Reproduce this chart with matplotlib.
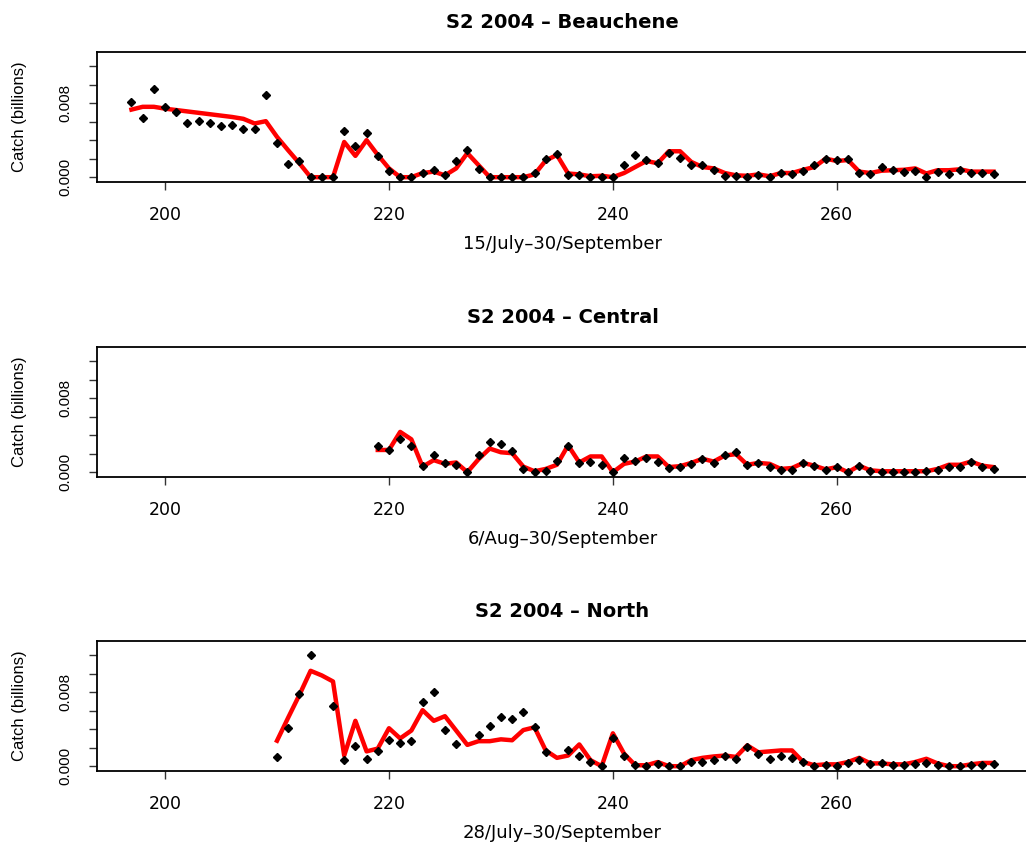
"""Observed vs fitted daily catch, S2 2004, three areas."""

import matplotlib

matplotlib.use("Agg")
import matplotlib.pyplot as plt
import numpy as np

nan = np.nan

# values read in units of 0.001 billion
beau_days = np.arange(197, 275)
beau_obs = [8.1, 6.4, 9.5, 7.6, 7.0, 5.9, 6.05, 5.9, 5.55, 5.65,
            5.2, 5.2, 8.9, 3.7, 1.4, 1.8, 0, 0, 0, 5.0,
            3.35, 4.75, 2.3, 0.7, 0, 0, 0.4, 0.8, 0.2, 1.7,
            2.9, 0.9, 0, 0, 0, 0, 0.4, 2.0, 2.55, 0.2,
            0.25, 0, 0, 0, 1.3, 2.4, 1.9, 1.55, 2.6, 2.1,
            1.35, 1.3, 0.8, 0.1, 0.1, 0.05, 0.2, 0, 0.45, 0.3,
            0.7, 1.3, 2.0, 1.9, 1.95, 0.45, 0.3, 1.05, 0.75, 0.6,
            0.7, 0, 0.6, 0.3, 0.8, 0.4, 0.4, 0.3]
beau_fit = [7.3, 7.6, 7.6, 7.4, 7.25, 7.1, 6.95, 6.8, 6.65, 6.5,
            6.3, 5.8, 6.05, 4.35, 2.9, 1.5, 0, 0, 0, 3.8,
            2.3, 4.0, 2.4, 0.95, 0, 0, 0.45, 0.6, 0.2, 0.95,
            2.6, 1.3, 0, 0, 0, 0, 0.3, 1.8, 2.4, 0.4,
            0.3, 0.1, 0.15, 0, 0.45, 1.1, 1.75, 1.5, 2.8, 2.8,
            1.65, 1.1, 0.95, 0.45, 0.2, 0.15, 0.3, 0.1, 0.45, 0.45,
            0.8, 1.1, 2.0, 1.75, 1.85, 0.6, 0.45, 0.7, 0.75, 0.8,
            0.95, 0.4, 0.75, 0.75, 0.85, 0.6, 0.6, 0.6]

cent_days = np.arange(219, 275)
cent_obs = [2.8, 2.4, 3.55, 2.85, 0.7, 1.85, 1.0, 0.8, 0, 1.85,
            3.3, 3.05, 2.3, 0.3, 0, 0.1, 1.25, 2.8,
            1.0, 1.15, 0.8, 0, 1.5, 1.25, 1.5, 1.05, 0.45, 0.55,
            0.9, 1.4, 1.0, 1.85, 2.15, 0.8, 1.0, 0.55, 0.2, 0.25,
            1.0, 0.7, 0.2, 0.55, 0, 0.65, 0.1, 0, 0, 0,
            0, 0.1, 0.2, 0.55, 0.55, 1.15, 0.55, 0.35]
cent_fit = [2.4, 2.4, 4.35, 3.55, 0.6, 1.3, 0.9, 1.05, 0, 1.4,
            2.55, 2.15, 2.05, 0.6, 0.1, 0.35, 0.8, 2.9,
            1.05, 1.7, 1.7, 0, 0.9, 1.15, 1.7, 1.7, 0.55, 0.65,
            1.0, 1.45, 1.15, 1.8, 1.95, 0.8, 1.0, 0.9, 0.35, 0.45,
            1.0, 0.7, 0.3, 0.55, 0, 0.7, 0.2, 0.1, 0.1, 0.1,
            0.1, 0.1, 0.35, 0.8, 0.8, 1.15, 0.7, 0.55]

north_days = np.arange(210, 275)
north_obs = [1.0, 4.1, 7.8, 12.05, nan, 6.55, 0.7, 2.2, 0.75, 1.6,
             2.85, 2.5, 2.75, 6.9, 8.05, 3.9, 2.35, nan, 3.35, 4.3,
             5.3, 5.05, 5.9, 4.25, 1.5, nan, 1.7,
             1.15, 0.45, 0, 3.05, 1.15, 0.1, 0, 0.2, 0, 0,
             0.5, 0.45, 0.7, 1.1, 0.8, 2.05, 1.3, 0.8, 1.05, 0.9,
             0.45, 0, 0.1, 0, 0.3, 0.7, 0.2, 0.35, 0.1, 0.1,
             0.2, 0.3, 0.1, 0, 0, 0.1, 0.1, 0.2]
north_fit = [2.75, 5.25, 7.7, 10.3, 9.8, 9.15, 1.15, 4.9, 1.6, 1.9,
             4.1, 3.0, 3.85, 6.05, 4.9, 5.4, 3.85, 2.3, 2.7, 2.7,
             2.9, 2.8, 3.9, 4.2, 1.7, 0.9, 1.15,
             2.35, 0.65, 0, 3.55, 1.35, 0.1, 0.1, 0.45, 0, 0,
             0.65, 0.9, 1.05, 1.15, 1.0, 2.25, 1.5, 1.6, 1.7, 1.7,
             0.45, 0.1, 0.2, 0.2, 0.45, 0.9, 0.3, 0.3, 0.2, 0.2,
             0.45, 0.8, 0.3, 0, 0, 0.2, 0.35, 0.35]

panels = [
    ("S2 2004 \u2013 Beauchene", "15/July\u201330/September", beau_days, beau_obs, beau_fit),
    ("S2 2004 \u2013 Central", "6/Aug\u201330/September", cent_days, cent_obs, cent_fit),
    ("S2 2004 \u2013 North", "28/July\u201330/September", north_days, north_obs, north_fit),
]

fig = plt.figure(figsize=(10.26, 8.47), dpi=100)
bottoms = [1 - 182 / 847, 1 - 477 / 847, 1 - 771 / 847]

for (title, xlab, days, obs, fit), b in zip(panels, bottoms):
    ax = fig.add_axes([97 / 1026, b, 931 / 1026, 130 / 847])
    ax.plot(days, np.array(fit) / 1000, color="red", lw=3.2, zorder=2)
    ax.plot(days, np.array(obs) / 1000, "D", color="black", ms=4.5, zorder=3)

    ax.set_xlim(193.92, 277.08)
    ax.set_ylim(-0.00052, 0.01352)
    ax.set_xticks([200, 220, 240, 260])
    ax.set_xticklabels(["200", "220", "240", "260"], family="DejaVu Sans", fontsize=12.5)
    yt = np.arange(0, 0.0121, 0.002)
    ax.set_yticks(yt)
    ax.set_yticklabels(["0.000", "", "", "", "0.008", "", ""],
                       rotation=90, va="center", family="Liberation Sans", fontsize=11)
    ax.tick_params(direction="out", length=6, width=1, color="#333333")
    ax.tick_params(axis="x", pad=11)
    ax.tick_params(axis="y", pad=12)
    for s in ax.spines.values():
        s.set_linewidth(1.3)
    ax.set_title(title, family="DejaVu Sans", fontweight="bold", fontsize=14, pad=17)
    ax.set_xlabel(xlab, family="DejaVu Sans", fontsize=13, labelpad=8)
    ax.set_ylabel("Catch (billions)", family="Liberation Sans", fontsize=12, labelpad=22)

fig.savefig("out.png", dpi=100)
